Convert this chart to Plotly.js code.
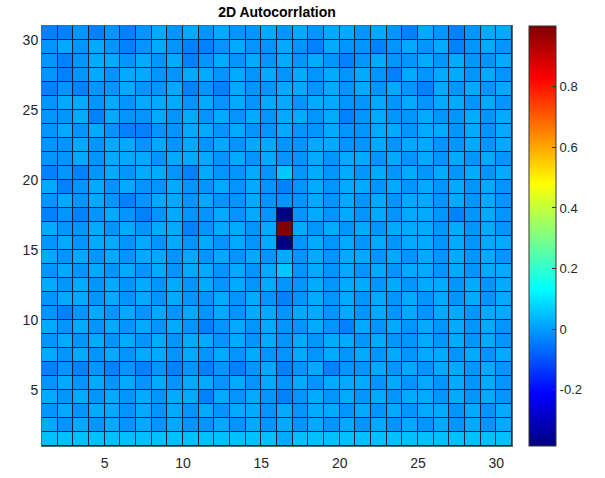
<!DOCTYPE html>
<html>
<head>
<meta charset="utf-8">
<script src="https://cdn.plot.ly/plotly-3.0.1.min.js"></script>
<style>html,body{margin:0;padding:0;background:#fff;}#chart{width:605px;height:478px;}</style>
</head>
<body>
<div id="chart"></div>
<script>
// Axis tick labels
const xTicks = [5, 10, 15, 20, 25, 30];
const yTicks = [5, 10, 15, 20, 25, 30];
const cbTicks = [-0.2, 0, 0.2, 0.4, 0.6, 0.8];
const cbTickText = ['-0.2', '0', '0.2', '0.4', '0.6', '0.8'];
const gridStart = 1; // first cell edge
const nCells = 30;

// Autocorrelation values, one array per row (row01 = bottom, y 1..2)
const row01 = [0.05,0.05,0.05,0.05,0.05,0.05,0.05,0.05,0.05,0.05,0.05,0.05,0.05,0.05,0.05,0.02,0.05,0.05,0.05,0.05,0.05,0.05,0.05,0.05,0.05,0.05,0.05,0.05,0.05,0.05];
const row02 = [0.02,-0.01,0.02,-0.01,0.02,-0.01,0.02,-0.01,0.02,-0.01,-0.01,0.02,-0.01,0.02,-0.01,0.02,-0.01,0.02,-0.01,0.02,-0.01,0.02,-0.01,0.02,-0.01,0.02,-0.01,0.02,-0.01,0.02];
const row03 = [-0.01,0.02,-0.01,0.02,0.02,-0.01,0.02,-0.01,0.02,-0.01,0.02,-0.01,0.02,0.02,-0.01,0.02,-0.01,0.02,0.02,-0.01,0.02,-0.01,0.02,-0.01,0.02,0.02,-0.01,0.02,-0.01,0.02];
const row04 = [0.02,-0.01,0.02,-0.01,0.02,-0.01,0.02,-0.01,0.02,0.02,-0.035,0.02,-0.01,0.02,-0.01,-0.035,-0.01,0.02,-0.01,0.02,-0.01,0.02,-0.01,0.02,0.02,-0.01,0.02,-0.01,0.02,-0.01];
const row05 = [-0.01,0.02,-0.01,0.02,-0.01,0.02,-0.01,0.02,-0.01,0.02,0.02,-0.01,0.02,-0.01,0.02,-0.01,0.02,-0.01,0.02,0.02,0.02,-0.01,0.02,-0.01,0.02,-0.01,0.02,-0.01,0.02,-0.01];
const row06 = [-0.035,-0.01,-0.035,-0.01,-0.035,-0.01,-0.035,-0.01,-0.035,-0.01,-0.035,-0.01,-0.035,-0.01,0.02,-0.035,-0.01,0.02,-0.035,-0.01,-0.01,0.02,-0.01,0.02,-0.01,0.02,0.02,-0.01,0.02,-0.01];
const row07 = [0.02,-0.01,0.02,-0.01,0.02,-0.01,0.02,0.02,-0.01,0.02,-0.01,0.02,-0.01,0.02,-0.01,-0.01,0.02,-0.01,0.02,-0.01,0.02,-0.01,0.02,-0.01,0.02,0.02,-0.01,0.02,-0.01,0.02];
const row08 = [-0.01,0.02,-0.01,0.02,-0.01,0.02,-0.01,0.02,-0.01,0.02,0.02,-0.01,0.02,-0.01,0.02,-0.01,0.02,-0.01,0.02,0.02,-0.01,0.02,-0.01,-0.01,0.02,-0.01,0.02,-0.01,0.02,-0.01];
const row09 = [0.02,-0.01,0.02,-0.01,0.02,-0.01,0.02,-0.01,0.02,-0.01,-0.035,-0.01,0.02,-0.01,0.02,-0.01,-0.01,0.02,-0.01,-0.035,0.02,-0.01,0.02,-0.01,0.02,-0.01,0.02,-0.01,0.02,-0.01];
const row10 = [-0.01,-0.035,-0.01,0.02,-0.01,0.02,-0.01,0.02,-0.01,0.02,-0.01,0.02,-0.01,0.02,0.02,-0.01,0.02,0.02,-0.01,0.02,-0.01,0.02,-0.01,0.02,-0.01,0.02,0.02,-0.01,0.02,0.02];
const row11 = [-0.01,0.02,0.02,-0.01,0.02,-0.01,0.02,-0.01,0.02,-0.01,-0.01,0.02,-0.01,0.02,-0.01,-0.035,-0.01,0.02,-0.01,0.02,-0.01,0.02,-0.01,0.02,-0.01,0.02,-0.01,0.02,-0.01,0.02];
const row12 = [0.02,-0.01,0.02,-0.01,0.02,-0.01,0.02,-0.01,0.02,-0.01,0.02,-0.01,0.02,-0.01,0.02,-0.01,-0.01,0.02,-0.01,0.02,0.02,-0.01,0.02,-0.01,0.02,0.02,-0.01,0.02,-0.01,0.02];
const row13 = [-0.01,0.02,-0.01,0.02,-0.01,0.02,-0.01,0.02,-0.01,0.02,0.02,-0.01,0.02,-0.01,0.02,0.06,-0.01,0.02,-0.01,0.02,-0.01,0.02,-0.01,0.02,0.02,-0.01,0.02,-0.01,0.02,0.02];
const row14 = [0.02,-0.01,0.02,-0.01,0.02,-0.01,0.02,0.02,-0.01,0.02,-0.01,0.02,-0.01,0.02,-0.01,0.02,-0.01,0.02,-0.01,0.02,0.02,-0.01,0.02,-0.01,0.02,-0.01,0.02,-0.01,0.02,-0.01];
const row15 = [-0.01,0.02,-0.01,0.02,0.02,-0.01,0.02,-0.01,0.02,-0.01,0.02,-0.01,0.02,-0.01,0.02,-0.385,-0.01,0.02,-0.01,0.02,-0.01,0.02,-0.01,0.02,0.02,-0.01,0.02,-0.01,0.02,0.02];
const row16 = [0.02,-0.01,-0.01,0.02,-0.01,0.02,-0.01,0.02,0.02,-0.035,-0.01,0.02,0.02,-0.01,0.02,1.0,0.02,-0.01,0.02,-0.01,0.02,-0.01,0.02,0.02,0.02,-0.01,0.02,-0.01,0.02,-0.01];
const row17 = [-0.035,-0.01,-0.035,-0.01,0.02,-0.01,-0.035,-0.01,0.02,-0.01,-0.01,0.02,-0.01,0.02,-0.01,-0.385,-0.01,0.02,-0.01,0.02,-0.01,0.02,-0.01,0.02,0.02,-0.01,-0.035,-0.01,0.02,-0.01];
const row18 = [-0.01,0.02,-0.01,0.02,-0.01,-0.035,-0.01,0.02,0.02,-0.01,0.02,-0.01,-0.01,0.02,-0.01,-0.01,-0.01,0.02,-0.01,0.02,-0.01,0.02,-0.01,0.02,0.02,-0.01,0.02,-0.01,0.02,-0.01];
const row19 = [0.02,-0.035,-0.01,0.02,-0.01,0.02,-0.01,-0.01,0.02,-0.01,-0.01,0.02,-0.01,0.02,-0.01,-0.035,-0.01,0.02,-0.01,0.02,0.02,-0.01,0.02,-0.01,0.02,-0.01,0.02,-0.01,0.02,-0.01];
const row20 = [-0.035,-0.01,-0.035,-0.01,0.02,-0.01,0.02,0.02,-0.01,-0.035,0.02,-0.01,-0.01,0.02,-0.01,0.06,-0.01,0.02,-0.01,0.02,-0.01,0.02,-0.01,0.02,-0.01,0.02,-0.01,0.02,-0.01,0.02];
const row21 = [-0.01,-0.01,0.02,-0.01,0.02,0.02,0.02,-0.01,0.02,0.02,0.02,-0.01,0.02,-0.01,0.02,-0.01,-0.01,0.02,-0.01,0.02,0.02,-0.01,0.02,-0.01,0.02,-0.01,0.02,-0.01,0.02,-0.01];
const row22 = [-0.01,-0.01,0.02,-0.01,0.02,0.02,-0.01,0.02,-0.01,0.02,-0.01,0.02,-0.01,0.02,0.02,-0.01,-0.01,0.02,0.02,-0.01,-0.01,0.02,-0.01,0.02,0.02,-0.01,-0.01,0.02,-0.01,0.02];
const row23 = [-0.01,0.02,-0.01,0.02,-0.01,-0.035,-0.035,-0.01,-0.01,0.02,0.02,-0.01,0.02,-0.01,-0.01,0.02,-0.01,-0.01,0.02,-0.01,-0.01,0.02,0.02,-0.01,0.02,0.02,-0.01,0.02,-0.01,0.02];
const row24 = [-0.01,-0.01,0.02,-0.035,0.02,-0.01,-0.01,0.02,-0.01,0.02,-0.01,0.02,-0.01,0.02,-0.01,0.02,0.02,-0.01,0.02,-0.035,-0.01,0.02,-0.01,-0.01,0.02,-0.01,-0.01,0.02,-0.01,0.02];
const row25 = [-0.01,0.02,0.02,-0.01,0.02,-0.01,0.02,0.02,0.02,-0.01,0.02,-0.01,0.02,-0.01,0.02,0.02,-0.01,0.02,0.02,-0.01,-0.01,0.02,-0.01,0.02,-0.01,0.02,0.02,-0.01,0.02,-0.01];
const row26 = [-0.035,-0.01,-0.035,-0.01,-0.01,0.02,-0.01,-0.01,0.02,-0.035,-0.01,-0.035,0.02,-0.01,-0.01,0.02,0.02,-0.01,0.02,-0.01,0.02,-0.01,0.02,-0.01,-0.035,0.02,-0.01,0.02,-0.01,0.02];
const row27 = [-0.01,-0.035,-0.01,0.02,-0.01,0.02,0.02,-0.01,-0.01,0.02,0.02,-0.01,0.02,-0.01,0.02,-0.01,0.02,-0.01,0.02,-0.01,0.02,-0.01,-0.035,0.02,-0.01,0.02,0.02,-0.01,0.02,-0.01];
const row28 = [-0.01,-0.035,-0.01,0.02,0.02,-0.01,0.02,-0.01,0.02,-0.035,-0.01,0.02,-0.01,0.02,-0.01,0.02,-0.01,0.02,-0.01,-0.035,-0.01,0.02,-0.01,-0.01,0.02,-0.01,0.02,-0.01,-0.01,0.02];
const row29 = [-0.01,0.02,-0.01,0.02,-0.01,-0.035,-0.01,0.02,-0.01,-0.035,-0.035,-0.01,0.02,-0.01,-0.01,0.02,-0.01,-0.035,0.02,-0.01,-0.01,-0.035,-0.01,0.02,-0.01,0.02,-0.035,-0.01,0.02,-0.01];
const row30 = [-0.035,-0.035,-0.01,-0.035,-0.01,-0.035,-0.01,0.02,-0.01,0.02,-0.01,0.02,-0.01,-0.01,0.02,-0.01,0.02,-0.01,0.02,0.02,-0.01,0.02,-0.01,-0.035,0.02,-0.01,-0.035,-0.01,0.02,0.02];

const z = [row01,row02,row03,row04,row05,row06,row07,row08,row09,row10,
           row11,row12,row13,row14,row15,row16,row17,row18,row19,row20,
           row21,row22,row23,row24,row25,row26,row27,row28,row29,row30];

const edges = [];
for (let i = 0; i <= nCells; i++) edges.push(gridStart + i);

const jet = [
  [0, 'rgb(0,0,128)'],
  [0.125, 'rgb(0,0,255)'],
  [0.375, 'rgb(0,255,255)'],
  [0.625, 'rgb(255,255,0)'],
  [0.875, 'rgb(255,0,0)'],
  [1, 'rgb(128,0,0)']
];

const trace = {
  type: 'heatmap',
  x: edges,
  y: edges,
  z: z,
  colorscale: jet,
  zmin: -0.385,
  zmax: 1.0,
  xgap: 1,
  ygap: 1,
  zsmooth: false,
  hoverinfo: 'none',
  colorbar: {
    x: 1.036, xanchor: 'left', xref: 'paper',
    y: 0.5, yanchor: 'middle', yref: 'paper',
    len: 1, lenmode: 'fraction',
    thickness: 27, thicknessmode: 'pixels',
    outlinewidth: 1, outlinecolor: '#333',
    tickvals: cbTicks, ticktext: cbTickText,
    ticks: 'inside', ticklen: 4, tickcolor: '#333',
    tickfont: {family: 'Liberation Sans, Arial, sans-serif', size: 13, color: '#262626'},
    xpad: 0, ypad: 0
  }
};

const axisFont = {family: 'Liberation Sans, Arial, sans-serif', size: 14, color: '#262626'};
const layout = {
  width: 605, height: 478,
  margin: {l: 42, r: 93, t: 26, b: 32},
  paper_bgcolor: '#ffffff',
  plot_bgcolor: '#141a3a',
  title: {
    text: '<b>2D Autocorrlation</b>',
    font: {family: 'Liberation Sans, Arial, sans-serif', size: 14, color: '#000'},
    x: 0.5, xref: 'paper', xanchor: 'center',
    y: 0.975, yref: 'container', yanchor: 'middle'
  },
  xaxis: {
    range: [gridStart, gridStart + nCells],
    tickvals: xTicks, ticks: '', showgrid: false, zeroline: false,
    showline: true, mirror: true, linecolor: '#666', linewidth: 1,
    tickfont: axisFont, ticklabelstandoff: 4
  },
  yaxis: {
    range: [gridStart, gridStart + nCells],
    tickvals: yTicks, ticks: '', showgrid: false, zeroline: false,
    showline: true, mirror: true, linecolor: '#666', linewidth: 1,
    tickfont: axisFont
  },
  showlegend: false
};

Plotly.newPlot('chart', [trace], layout, {displayModeBar: false, staticPlot: true});
</script>
</body>
</html>
